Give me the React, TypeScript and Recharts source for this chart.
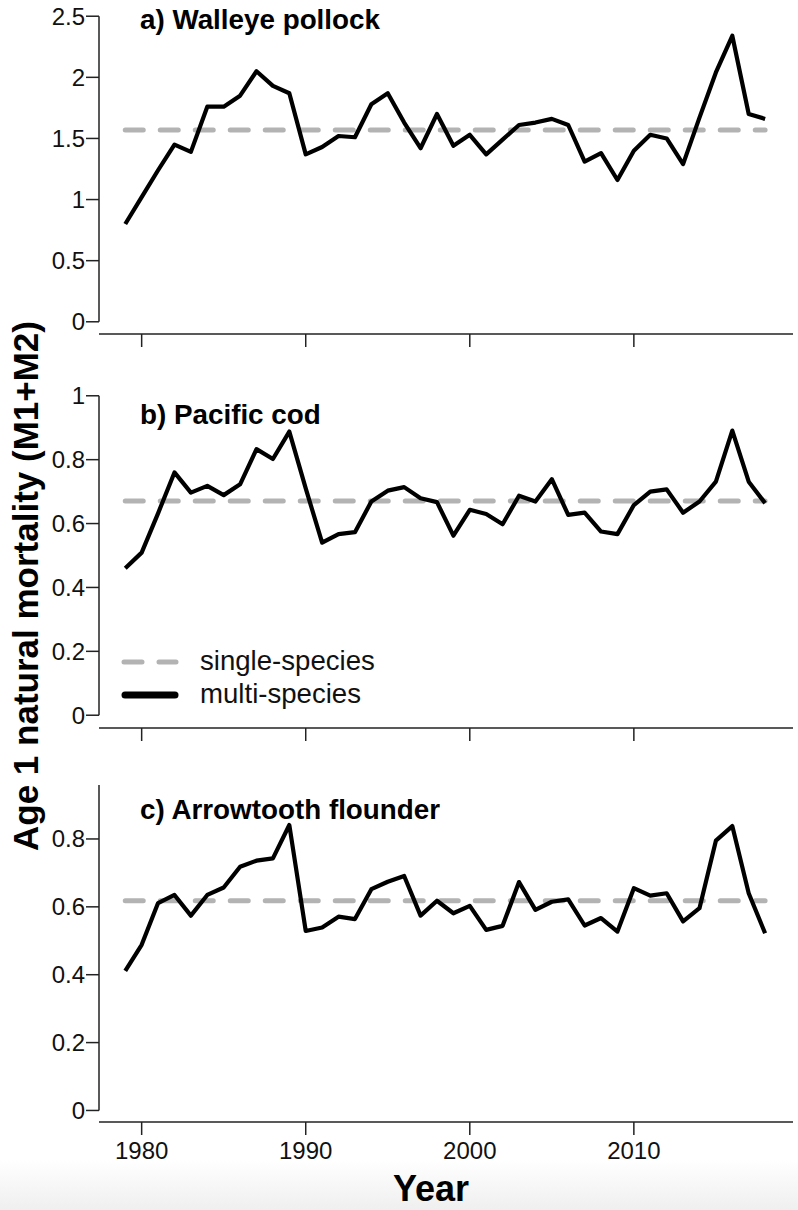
import { LineChart, Line, XAxis, YAxis, ReferenceLine } from "recharts";

const years = [
  1979, 1980, 1981, 1982, 1983, 1984, 1985, 1986, 1987, 1988,
  1989, 1990, 1991, 1992, 1993, 1994, 1995, 1996, 1997, 1998,
  1999, 2000, 2001, 2002, 2003, 2004, 2005, 2006, 2007, 2008,
  2009, 2010, 2011, 2012, 2013, 2014, 2015, 2016, 2017, 2018,
];

const pollock = [
  0.8, 1.02, 1.24, 1.45, 1.39, 1.76, 1.76, 1.85, 2.05, 1.93,
  1.87, 1.37, 1.43, 1.52, 1.51, 1.78, 1.87, 1.63, 1.42, 1.7,
  1.44, 1.53, 1.37, 1.49, 1.61, 1.63, 1.66, 1.61, 1.31, 1.38,
  1.16, 1.4, 1.53, 1.5, 1.29, 1.67, 2.04, 2.34, 1.7, 1.66,
];

const cod = [
  0.46, 0.509, 0.632, 0.76, 0.697, 0.718, 0.689, 0.723, 0.833, 0.802,
  0.888, 0.71, 0.54, 0.567, 0.573, 0.669, 0.703, 0.714, 0.679, 0.667,
  0.562, 0.643, 0.63, 0.598, 0.687, 0.669, 0.739, 0.627, 0.634, 0.575,
  0.567, 0.658, 0.7, 0.707, 0.634, 0.669, 0.731, 0.891, 0.731, 0.664,
];

const arrowtooth = [
  0.411, 0.488, 0.611, 0.635, 0.574, 0.635, 0.657, 0.718, 0.736, 0.743,
  0.841, 0.529, 0.539, 0.571, 0.564, 0.652, 0.674, 0.691, 0.574, 0.618,
  0.581, 0.603, 0.532, 0.544, 0.673, 0.591, 0.615, 0.622, 0.545, 0.567,
  0.527, 0.655, 0.633, 0.64, 0.557, 0.596, 0.795, 0.838, 0.64, 0.522,
];

// single-species constant M per stock
const singlePollock = 1.57;
const singleCod = 0.671;
const singleArrowtooth = 0.618;

const xTicks = [1980, 1990, 2000, 2010];
const xDomain: [number, number] = [1977.4, 2019.7];

const FONT = "'Liberation Sans', Arial, sans-serif";
const AXIS = "#222";

type PanelProps = {
  values: number[];
  single: number;
  top: number;
  height: number;
  marginTop: number;
  domain: [number, number];
  yTicks: number[];
  axisTop: number;
  showXLabels?: boolean;
  xAxisHeight: number;
};

function Panel({
  values, single, top, height, marginTop, domain, yTicks, axisTop, showXLabels, xAxisHeight,
}: PanelProps) {
  const data = years.map((y, i) => ({ year: y, multi: values[i] }));
  return (
    <div style={{ position: "absolute", left: 0, top }}>
      <LineChart width={798} height={height} data={data}
        margin={{ top: marginTop, right: 5, left: 0, bottom: 0 }}>
        <XAxis
          dataKey="year"
          type="number"
          domain={xDomain}
          ticks={xTicks}
          height={xAxisHeight}
          tickSize={13}
          tickMargin={7}
          axisLine={{ stroke: AXIS, strokeWidth: 1.5 }}
          tickLine={{ stroke: AXIS, strokeWidth: 1.5 }}
          tick={{ fontSize: 24, fill: "#111", fontFamily: FONT }}
          tickFormatter={showXLabels ? (v) => `${v}` : () => ""}
        />
        <YAxis
          type="number"
          domain={domain}
          ticks={yTicks}
          width={99}
          tickSize={13}
          tickMargin={1}
          axisLine={false}
          tickLine={{ stroke: AXIS, strokeWidth: 1.5 }}
          tick={{ fontSize: 24, fill: "#111", fontFamily: FONT }}
        />
        {/* R-style y axis line, only over the tick range */}
        <ReferenceLine
          segment={[{ x: xDomain[0], y: 0 }, { x: xDomain[0], y: axisTop }]}
          stroke={AXIS}
          strokeWidth={1.5}
          ifOverflow="visible"
        />
        <ReferenceLine
          segment={[{ x: years[0], y: single }, { x: years[years.length - 1], y: single }]}
          stroke="#b3b3b3"
          strokeWidth={5}
          strokeDasharray="18 17"
          strokeLinecap="round"
          ifOverflow="visible"
        />
        <Line
          type="linear"
          dataKey="multi"
          stroke="#000"
          strokeWidth={4.2}
          strokeLinejoin="round"
          dot={false}
          activeDot={false}
          isAnimationActive={false}
        />
      </LineChart>
    </div>
  );
}

export default function App() {
  return (
    <div style={{
      position: "absolute", left: 0, top: 0, width: 798, height: 1210,
      background: "#fff", fontFamily: FONT, overflow: "hidden",
    }}>
      <div style={{
        position: "absolute", left: 0, top: 1160, width: 798, height: 50,
        background: "linear-gradient(#ffffff, #efefef)",
      }} />
      <Panel values={pollock} single={singlePollock} top={0} height={360} marginTop={4}
        domain={[-0.1, 2.6]} yTicks={[0, 0.5, 1, 1.5, 2, 2.5]} axisTop={2.5} xAxisHeight={26} />
      <Panel values={cod} single={singleCod} top={370} height={384} marginTop={13}
        domain={[-0.04, 1.04]} yTicks={[0, 0.2, 0.4, 0.6, 0.8, 1]} axisTop={1} xAxisHeight={26} />
      <Panel values={arrowtooth} single={singleArrowtooth} top={770} height={400} marginTop={15}
        domain={[-0.034, 0.959]} yTicks={[0, 0.2, 0.4, 0.6, 0.8]} axisTop={0.959}
        showXLabels xAxisHeight={48} />
      <svg width={798} height={1210} style={{ position: "absolute", left: 0, top: 0, pointerEvents: "none" }}
        fontFamily={FONT}>
        <text x={140} y={29} fontSize={27.8} fontWeight="bold" fill="#000">a) Walleye pollock</text>
        <text x={140} y={424} fontSize={27.8} fontWeight="bold" fill="#000">b) Pacific cod</text>
        <text x={140} y={819} fontSize={27.8} fontWeight="bold" fill="#000">c) Arrowtooth flounder</text>

        <line x1={124} y1={662} x2={176} y2={662} stroke="#b3b3b3" strokeWidth={5}
          strokeDasharray="18 17" strokeLinecap="round" />
        <line x1={125} y1={695} x2={175} y2={695} stroke="#000" strokeWidth={7} strokeLinecap="round" />
        <text x={200} y={670} fontSize={27.6} fill="#111">single-species</text>
        <text x={200} y={703} fontSize={27.6} fill="#111">multi-species</text>

        <text x={431} y={1201} fontSize={36} fontWeight="bold" textAnchor="middle" fill="#000">Year</text>
        <text transform="translate(38,586) rotate(-90)" fontSize={35} fontWeight="bold"
          textAnchor="middle" fill="#000">Age 1 natural mortality (M1+M2)</text>
      </svg>
    </div>
  );
}
